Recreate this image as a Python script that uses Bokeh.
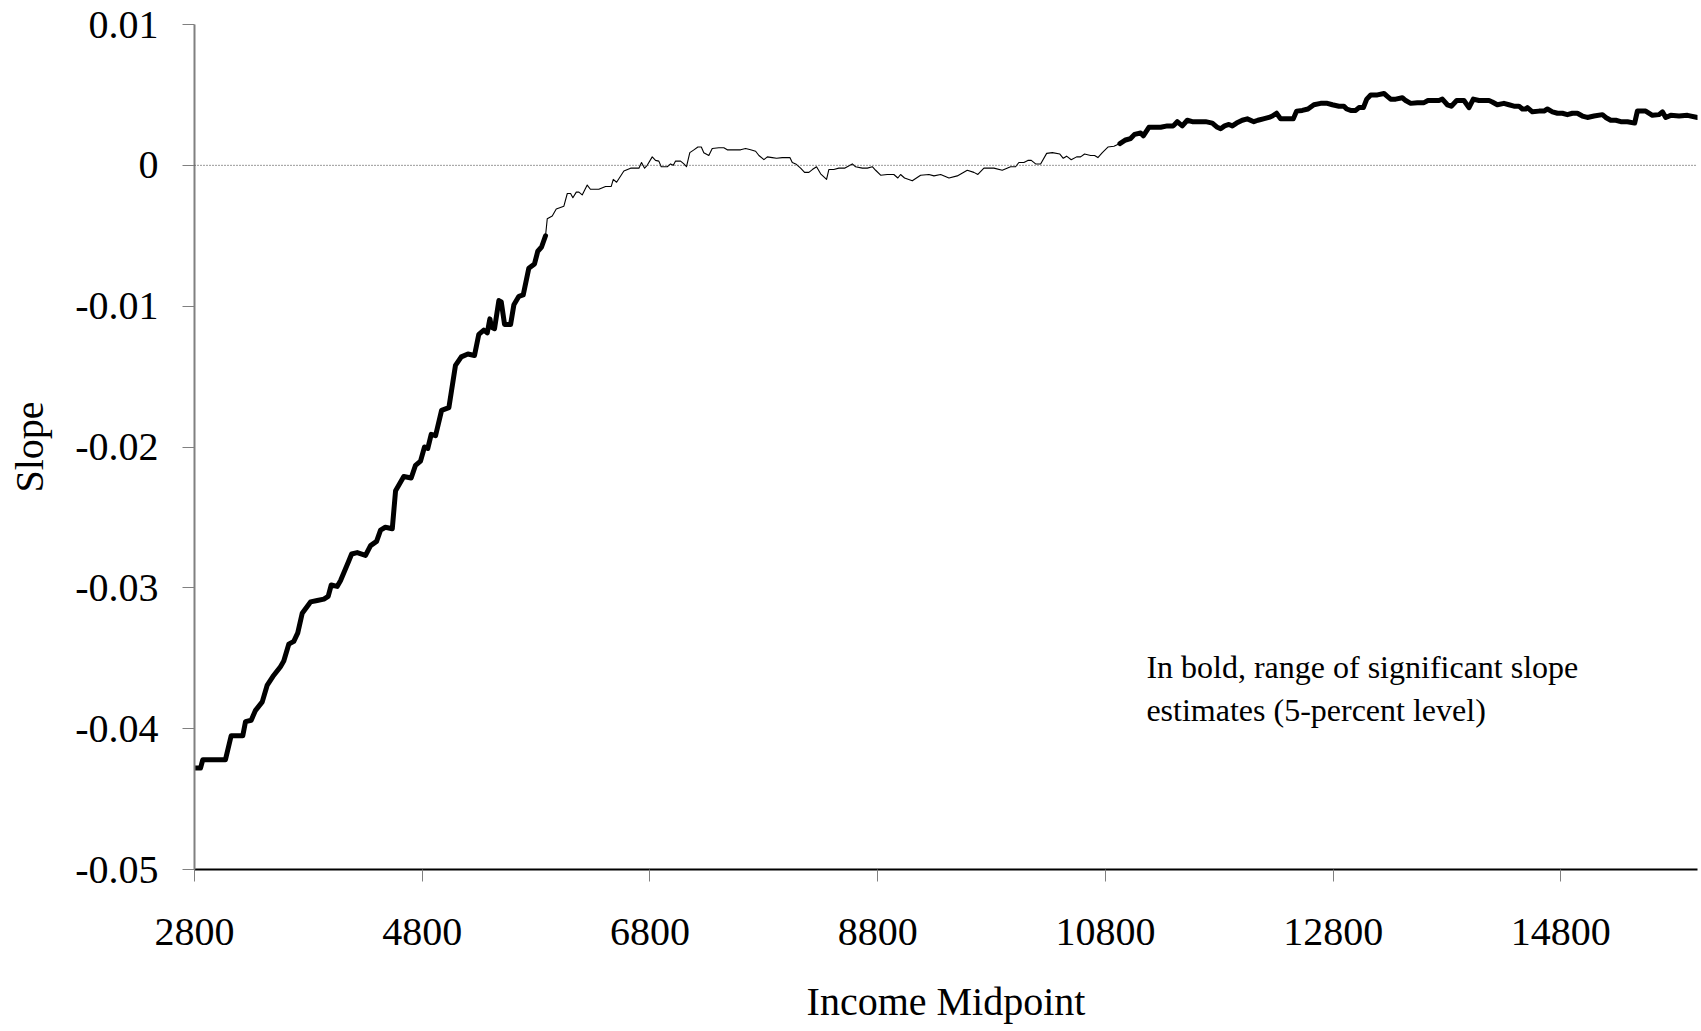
from bokeh.plotting import figure
from bokeh.models import FixedTicker, Span, Label, Range1d
from bokeh.embed import file_html
from bokeh.resources import INLINE

# ---- data ----
bold1_x = [2800, 2853, 2873, 3072, 3122, 3224, 3248, 3298, 3336, 3395, 3439, 3488, 3555, 3584,
           3628, 3672, 3707, 3746, 3819, 3878, 3936, 3974, 4001, 4053, 4082, 4155, 4180, 4229,
           4302, 4346, 4399, 4434, 4476, 4537, 4566, 4638, 4703, 4741, 4785, 4820, 4849, 4879,
           4917, 4970, 5034, 5092, 5143, 5201, 5259, 5297, 5341, 5371, 5394, 5409, 5435, 5473,
           5494, 5523, 5576, 5605, 5649, 5687, 5736, 5786, 5815, 5848, 5883]
bold1_y = [-0.0428, -0.0428, -0.0422, -0.0422, -0.0405, -0.0405, -0.0395, -0.0394, -0.0387,
           -0.0381, -0.0369, -0.0363, -0.0356, -0.0352, -0.0340, -0.0338, -0.0332, -0.0318,
           -0.0310, -0.0309, -0.0308, -0.0306, -0.0298, -0.0299, -0.0295, -0.0281, -0.0276,
           -0.0275, -0.0277, -0.0270, -0.0267, -0.0259, -0.0257, -0.0258, -0.0231, -0.0221,
           -0.0222, -0.0213, -0.0210, -0.0200, -0.0201, -0.0191, -0.0192, -0.0174, -0.0172,
           -0.0142, -0.0136, -0.0134, -0.0135, -0.0120, -0.0117, -0.0119, -0.0109, -0.0115,
           -0.0116, -0.0096, -0.0097, -0.0113, -0.0113, -0.0099, -0.0093, -0.0092, -0.0073,
           -0.0070, -0.0061, -0.0058, -0.0050]

thin_x = [5883, 5898, 5942, 5977, 6044, 6074, 6103, 6123, 6153, 6176, 6205, 6249, 6277, 6351,
          6410, 6460, 6478, 6507, 6571, 6630, 6703, 6726, 6753, 6776, 6820, 6849, 6878, 6899,
          6952, 6981, 7005, 7025, 7069, 7098, 7121, 7150, 7186, 7221, 7251, 7273, 7317, 7347,
          7405, 7449, 7479, 7523, 7567, 7596, 7640, 7684, 7728, 7757, 7801, 7831, 7874, 7912,
          7962, 8029, 8050, 8080, 8123, 8158, 8196, 8226, 8263, 8299, 8351, 8371, 8415, 8459,
          8509, 8577, 8606, 8665, 8709, 8753, 8782, 8826, 8884, 8942, 8977, 9001, 9036, 9104,
          9177, 9250, 9294, 9353, 9426, 9499, 9587, 9645, 9680, 9733, 9821, 9894, 9967, 10011,
          10040, 10084, 10119, 10149, 10187, 10231, 10284, 10334, 10400, 10430, 10459, 10500,
          10547, 10582, 10617, 10670, 10705, 10734, 10773, 10822, 10875, 10927]
thin_y = [-0.0050, -0.0038, -0.0036, -0.0031, -0.0029, -0.0020, -0.0020, -0.0023, -0.0019,
          -0.0019, -0.0021, -0.0014, -0.0017, -0.0017, -0.0015, -0.0015, -0.0010, -0.0012,
          -0.0004, -0.0002, -0.0002, 0.0002, -0.0002, 0.0000, 0.0006, 0.00035, 0.0003, -0.0001,
          -0.0001, 0.0001, 0.0000, 0.0003, 0.0003, 0.0001, -0.0001, 0.0009, 0.0011, 0.0013,
          0.0013, 0.0009, 0.0007, 0.0012, 0.00125, 0.00125, 0.0011, 0.0011, 0.0011, 0.0011,
          0.0012, 0.0011, 0.0010, 0.0007, 0.0004, 0.0006, 0.00055, 0.0005, 0.00055, 0.00055,
          0.0002, 0.0001, -0.0002, -0.0005, -0.0005, -0.0003, -0.0001, -0.0006, -0.0010,
          -0.0003, -0.0003, -0.0002, -0.0002, 0.0001, -0.0001, -0.0002, -0.0002, -0.0001,
          -0.00035, -0.0007, -0.00065, -0.00065, -0.0009, -0.00065, -0.0009, -0.0011, -0.0007,
          -0.00065, -0.00075, -0.00065, -0.0009, -0.00075, -0.00035, -0.0005, -0.00065, -0.0002,
          -0.0002, -0.00035, -0.0001, -0.0001, 0.0002, 0.0002, 0.00035, 0.00035, 0.0001, 0.0001,
          0.00085, 0.0009, 0.0008, 0.0005, 0.00065, 0.0004, 0.0006, 0.0006, 0.0008, 0.0007,
          0.0007, 0.00055, 0.0009, 0.0013, 0.00135, 0.00155]

bold2_x = [10927, 10977, 11021, 11056, 11109, 11133, 11182, 11226, 11285, 11344, 11396, 11431,
           11475, 11519, 11563, 11607, 11680, 11739, 11783, 11812, 11847, 11885, 11915, 11952,
           12002, 12046, 12104, 12139, 12187, 12236, 12266, 12303, 12339, 12397, 12450, 12479,
           12529, 12579, 12631, 12690, 12749, 12793, 12851, 12895, 12919, 12954, 12998, 13027,
           13066, 13095, 13130, 13189, 13247, 13276, 13305, 13349, 13408, 13437, 13481, 13540,
           13598, 13633, 13680, 13729, 13759, 13803, 13838, 13885, 13949, 13993, 14031, 14081,
           14125, 14169, 14198, 14242, 14300, 14344, 14388, 14432, 14462, 14491, 14506, 14550,
           14608, 14652, 14682, 14726, 14770, 14814, 14857, 14901, 14945, 14989, 15033, 15091,
           15165, 15194, 15238, 15282, 15326, 15385, 15448, 15472, 15545, 15604, 15662, 15692,
           15721, 15765, 15838, 15912, 16000]
bold2_y = [0.00155, 0.0018, 0.0019, 0.0022, 0.0023, 0.0021, 0.0027, 0.0027, 0.0027, 0.0028,
           0.0028, 0.0031, 0.0028, 0.0032, 0.0031, 0.0031, 0.0031, 0.0030, 0.0027, 0.0026,
           0.0028, 0.0029, 0.0028, 0.0030, 0.0032, 0.0033, 0.0031, 0.0032, 0.0033, 0.0034,
           0.0035, 0.0037, 0.0033, 0.0033, 0.0033, 0.00385, 0.0039, 0.0040, 0.0043, 0.0044,
           0.0044, 0.0043, 0.0042, 0.0042, 0.0040, 0.0039, 0.0039, 0.0041, 0.0041, 0.0047,
           0.0050, 0.0050, 0.0051, 0.0049, 0.0047, 0.0047, 0.0048, 0.0046, 0.0044, 0.00445,
           0.00445, 0.0046, 0.0046, 0.0046, 0.0047, 0.0043, 0.0042, 0.0046, 0.0046, 0.0041,
           0.0047, 0.0046, 0.0046, 0.0046, 0.0045, 0.0043, 0.0044, 0.0043, 0.0042, 0.0042,
           0.0040, 0.0040, 0.0041, 0.0038, 0.00385, 0.00385, 0.0040, 0.0038, 0.0037, 0.0037,
           0.0036, 0.0037, 0.0037, 0.0035, 0.0034, 0.0035, 0.0036, 0.0034, 0.0032, 0.0032,
           0.0031, 0.0031, 0.0030, 0.00385, 0.00385, 0.00355, 0.0036, 0.0038, 0.0034, 0.00355,
           0.0035, 0.00355, 0.0034]

x_ticks = [2800, 4800, 6800, 8800, 10800, 12800, 14800]
x_tick_labels = ["2800", "4800", "6800", "8800", "10800", "12800", "14800"]
y_ticks = [-0.05, -0.04, -0.03, -0.02, -0.01, 0.0, 0.01]
y_tick_labels = ["-0.05", "-0.04", "-0.03", "-0.02", "-0.01", "0", "0.01"]

note_lines = ["In bold, range of significant slope", "estimates (5-percent level)"]
note_x = 11160
note_y = [-0.0356, -0.0387]

FONT = "Liberation Serif"

p = figure(width=1701, height=1031, output_backend="svg", toolbar_location=None,
           x_range=Range1d(2800, 16000), y_range=Range1d(-0.05, 0.01),
           min_border_left=194, min_border_right=4, min_border_top=24, min_border_bottom=162,
           background_fill_color="white", border_fill_color="white")
p.outline_line_color = None
p.xgrid.visible = False
p.ygrid.visible = False

# zero reference line
p.add_layout(Span(location=0, dimension="width", line_color="#333333", line_width=1,
                  line_dash="1 2"))

p.line(thin_x, thin_y, line_color="black", line_width=1.1, line_join="round")
p.line(bold1_x, bold1_y, line_color="black", line_width=5, line_join="round", line_cap="round")
p.line(bold2_x, bold2_y, line_color="black", line_width=5, line_join="round", line_cap="round")

# axes
xa = p.xaxis[0]
xa.ticker = FixedTicker(ticks=x_ticks)
xa.major_label_overrides = {t: l for t, l in zip(x_ticks, x_tick_labels)}
xa.axis_line_color = "black"
xa.axis_line_width = 2
xa.major_tick_line_color = "#808080"
xa.major_tick_out = 12
xa.major_tick_in = 0
xa.minor_tick_line_color = None
xa.major_label_text_font = FONT
xa.major_label_text_font_size = "40px"
xa.major_label_text_color = "black"
xa.major_label_standoff = 37
xa.axis_label = "Income Midpoint"
xa.axis_label_text_font = FONT
xa.axis_label_text_font_size = "40px"
xa.axis_label_text_font_style = "normal"
xa.axis_label_text_color = "black"
xa.axis_label_standoff = 31

ya = p.yaxis[0]
ya.ticker = FixedTicker(ticks=y_ticks)
ya.major_label_overrides = {t: l for t, l in zip(y_ticks, y_tick_labels)}
ya.axis_line_color = "#808080"
ya.axis_line_width = 2
ya.major_tick_line_color = "#808080"
ya.major_tick_out = 12
ya.major_tick_in = 0
ya.minor_tick_line_color = None
ya.major_label_text_font = FONT
ya.major_label_text_font_size = "40px"
ya.major_label_text_color = "black"
ya.major_label_standoff = 24
ya.axis_label = "Slope"
ya.axis_label_text_font = FONT
ya.axis_label_text_font_size = "40px"
ya.axis_label_text_font_style = "normal"
ya.axis_label_text_color = "black"
ya.axis_label_standoff = 20

for txt, yy in zip(note_lines, note_y):
    p.add_layout(Label(x=note_x, y=yy, text=txt, text_font=FONT, text_font_size="32px",
                       text_color="black", text_baseline="alphabetic", text_align="left"))

open("out.html", "w").write(file_html(p, INLINE))
